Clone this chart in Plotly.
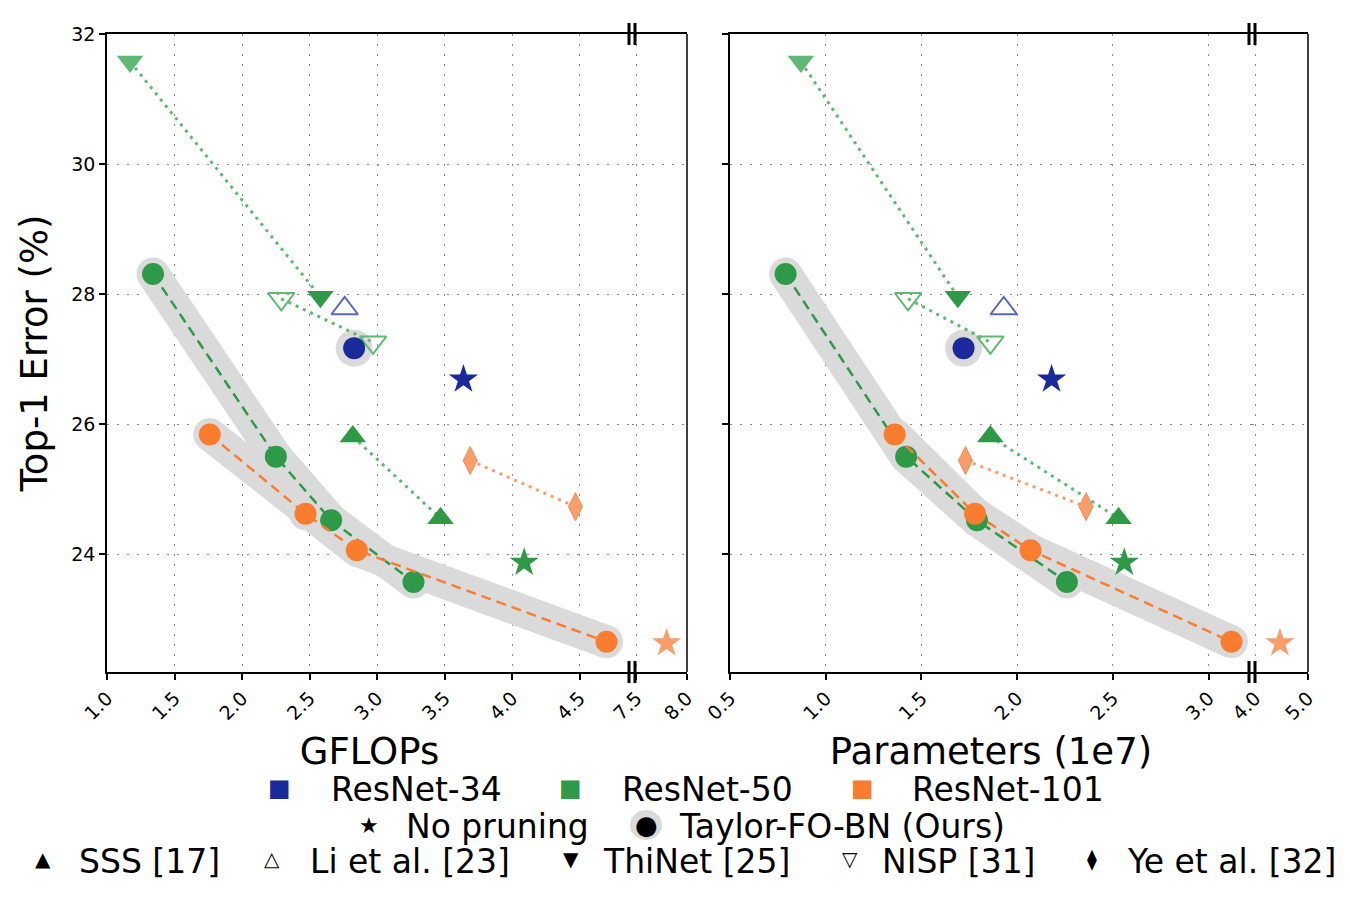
import plotly.graph_objects as go

# ---------------- data ----------------
# Left panel: GFLOPs vs top-1 error
r34_taylor_gflops = [2.83]
r34_taylor_err = [27.17]
r34_base_gflops = [3.64]
r34_base_err = [26.69]
li_gflops = [2.76]
li_err = [27.78]

r50_taylor_gflops = [1.34, 2.25, 2.66, 3.27]
r50_taylor_err = [28.31, 25.50, 24.52, 23.57]
r50_base_gflops = [4.09]
r50_base_err = [23.87]
sss_gflops = [2.82, 3.47]
sss_err = [25.81, 24.55]
thinet_gflops = [1.17, 2.58]
thinet_err = [31.58, 27.96]
nisp_gflops = [2.29, 2.97]
nisp_err = [27.93, 27.26]

r101_taylor_gflops = [1.76, 2.47, 2.85, 4.70]
r101_taylor_err = [25.84, 24.62, 24.06, 22.65]
ye_gflops = [3.69, 4.47]
ye_err = [25.44, 24.73]
r101_base_gflops = [7.80]
r101_base_err = [22.63]

# Right panel: parameters (1e7) vs top-1 error
r34_taylor_params = [1.72]
r34_base_params = [2.18]
li_params = [1.93]
r50_taylor_params = [0.79, 1.42, 1.79, 2.26]
r50_base_params = [2.56]
sss_params = [1.86, 2.53]
thinet_params = [0.87, 1.69]
nisp_params = [1.43, 1.86]
r101_taylor_params = [1.36, 1.78, 2.07, 3.12]
ye_params = [1.73, 2.36]
r101_base_params = [4.47]

y_ticks = [24, 26, 28, 30, 32]
gflops_ticks_a = [1.0, 1.5, 2.0, 2.5, 3.0, 3.5, 4.0, 4.5]
gflops_ticks_b = [7.5, 8.0]
params_ticks_a = [0.5, 1.0, 1.5, 2.0, 2.5, 3.0]
params_ticks_b = [4.0, 5.0]

x_titles = ["GFLOPs", "Parameters (1e7)"]
y_title = "Top-1 Error (%)"
model_labels = ["ResNet-34", "ResNet-50", "ResNet-101"]
kind_labels = ["No pruning", "Taylor-FO-BN (Ours)"]
method_labels = ["SSS [17]", "Li et al. [23]", "ThiNet [25]", "NISP [31]", "Ye et al. [32]"]

# ---------------- style / layout constants ----------------
W, H = 1350, 900
FONT = "DejaVu Sans"
BLUE = "#1b2a9b"
LIGHT_BLUE = "#5a66c4"
GREEN = "#2e9a47"
LIGHT_GREEN = "#5fb874"
ORANGE = "#fa7c2f"
LIGHT_ORANGE = "#f99e6a"
HALO = "#dadada"
GRID = "#8a8a8a"

L_X0, L_BRK, L_X1 = 107, 632, 687
R_X0, R_BRK, R_X1 = 730, 1252, 1308
Y_TOP, Y_BOT = 34, 672

def px(v):
    return v / W

def py(v):
    return 1 - v / H

fig = go.Figure()

def add_panel(xa, xb, ya, d):
    """xa: main segment axis, xb: broken right segment axis"""
    common = dict(hoverinfo="skip", showlegend=False, yaxis=ya)
    # gray halos behind Taylor-FO-BN
    for xs, ys in [(d["r50_t"], r50_taylor_err), (d["r101_t"], r101_taylor_err)]:
        fig.add_trace(go.Scatter(x=xs, y=ys, mode="lines+markers", xaxis=xa,
                                 line=dict(color=HALO, width=33),
                                 marker=dict(color=HALO, size=33, line=dict(width=0)), **common))
    fig.add_trace(go.Scatter(x=d["r34_t"], y=r34_taylor_err, mode="markers", xaxis=xa,
                             marker=dict(color=HALO, size=37, line=dict(width=0)), **common))
    # dotted connections of other methods
    for xs, ys, c in [(d["thinet"], thinet_err, LIGHT_GREEN), (d["nisp"], nisp_err, LIGHT_GREEN),
                      (d["sss"], sss_err, LIGHT_GREEN), (d["ye"], ye_err, LIGHT_ORANGE)]:
        fig.add_trace(go.Scatter(x=xs, y=ys, mode="lines", xaxis=xa,
                                 line=dict(color=c, width=3, dash="3px,5px"), **common))
    # markers of other methods
    fig.add_trace(go.Scatter(x=d["thinet"], y=thinet_err, mode="markers", xaxis=xa,
                             marker=dict(symbol="triangle-down", size=23, color=[LIGHT_GREEN, GREEN],
                                         line=dict(width=0)), **common))
    fig.add_trace(go.Scatter(x=d["nisp"], y=nisp_err, mode="markers", xaxis=xa,
                             marker=dict(symbol="triangle-down-open", size=23, color=LIGHT_GREEN,
                                         line=dict(width=2)), **common))
    fig.add_trace(go.Scatter(x=d["sss"], y=sss_err, mode="markers", xaxis=xa,
                             marker=dict(symbol="triangle-up", size=23, color=GREEN,
                                         line=dict(width=0)), **common))
    fig.add_trace(go.Scatter(x=d["li"], y=li_err, mode="markers", xaxis=xa,
                             marker=dict(symbol="triangle-up-open", size=23, color=LIGHT_BLUE,
                                         line=dict(width=2)), **common))
    fig.add_trace(go.Scatter(x=d["ye"], y=ye_err, mode="markers", xaxis=xa,
                             marker=dict(symbol="diamond-tall", size=20, color=LIGHT_ORANGE,
                                         line=dict(width=1, color="#f48a50")), **common))
    # unpruned models
    fig.add_trace(go.Scatter(x=d["r34_b"], y=r34_base_err, mode="markers", xaxis=xa,
                             marker=dict(symbol="star", size=22, color=BLUE, line=dict(width=0)), **common))
    fig.add_trace(go.Scatter(x=d["r50_b"], y=r50_base_err, mode="markers", xaxis=xa,
                             marker=dict(symbol="star", size=22, color=GREEN, line=dict(width=0)), **common))
    fig.add_trace(go.Scatter(x=d["r101_b"], y=r101_base_err, mode="markers", xaxis=xb,
                             marker=dict(symbol="star", size=22, color=LIGHT_ORANGE, line=dict(width=0)), **common))
    # Taylor-FO-BN (ours)
    fig.add_trace(go.Scatter(x=d["r50_t"], y=r50_taylor_err, mode="lines+markers", xaxis=xa,
                             line=dict(color=GREEN, width=2.5, dash="10px,6px"),
                             marker=dict(size=22, color=GREEN, line=dict(width=0)), **common))
    fig.add_trace(go.Scatter(x=d["r101_t"], y=r101_taylor_err, mode="lines+markers", xaxis=xa,
                             line=dict(color=ORANGE, width=2.5, dash="10px,6px"),
                             marker=dict(size=22, color=ORANGE, line=dict(width=0)), **common))
    fig.add_trace(go.Scatter(x=d["r34_t"], y=r34_taylor_err, mode="markers", xaxis=xa,
                             marker=dict(size=22, color=BLUE, line=dict(width=0)), **common))


add_panel("x", "x2", "y", dict(r34_t=r34_taylor_gflops, r34_b=r34_base_gflops, li=li_gflops,
                               r50_t=r50_taylor_gflops, r50_b=r50_base_gflops, sss=sss_gflops,
                               thinet=thinet_gflops, nisp=nisp_gflops, r101_t=r101_taylor_gflops,
                               ye=ye_gflops, r101_b=r101_base_gflops))
add_panel("x3", "x4", "y2", dict(r34_t=r34_taylor_params, r34_b=r34_base_params, li=li_params,
                                 r50_t=r50_taylor_params, r50_b=r50_base_params, sss=sss_params,
                                 thinet=thinet_params, nisp=nisp_params, r101_t=r101_taylor_params,
                                 ye=ye_params, r101_b=r101_base_params))

tickfont = dict(family=FONT, size=19, color="black")
grid = dict(showgrid=True, gridcolor=GRID, gridwidth=1, griddash="1.5px,8.5px")
axline = dict(showline=True, linecolor="black", linewidth=1.5, ticks="outside", ticklen=6,
              tickwidth=1.5, tickcolor="black", zeroline=False)

def xaxis(dom, rng, ticks, anchor, title=None):
    d = dict(domain=[px(dom[0]), px(dom[1])], range=rng, tickvals=ticks,
             ticktext=[f"{t:.1f}" for t in ticks], tickangle=-45, tickfont=tickfont,
             anchor=anchor, mirror=True, automargin=False, **grid, **axline)
    if title:
        d["title"] = dict(text=title, font=dict(family=FONT, size=37, color="black"), standoff=15)
    return d

y_rng = [22.185, 32.005]
fig.update_layout(
    width=W, height=H,
    margin=dict(l=0, r=0, t=0, b=0),
    paper_bgcolor="white", plot_bgcolor="white",
    showlegend=False,
    xaxis=xaxis((L_X0, L_BRK), [0.999, 1.0 + (L_BRK - L_X0) / 135], gflops_ticks_a, "y", x_titles[0]),
    xaxis2=xaxis((L_BRK, L_X1), [7.458, 8.002], gflops_ticks_b, "y"),
    xaxis3=xaxis((R_X0, R_BRK), [0.4995, 0.5 + (R_BRK - R_X0) / 191.4], params_ticks_a, "y2", x_titles[1]),
    xaxis4=xaxis((R_BRK, R_X1), [3.94, 5.002], params_ticks_b, "y2"),
    yaxis=dict(domain=[py(Y_BOT), py(Y_TOP)], range=y_rng, tickvals=y_ticks, tickfont=tickfont,
               anchor="x", automargin=False,
               title=dict(text=y_title, font=dict(family=FONT, size=37, color="black"), standoff=12),
               **grid, **axline),
    yaxis2=dict(domain=[py(Y_BOT), py(Y_TOP)], range=y_rng, tickvals=y_ticks, showticklabels=False,
                anchor="x3", automargin=False, **grid, **axline),
)

shapes = []
# right spines of the broken segments
for xr, yr in [("x2 domain", "y domain"), ("x4 domain", "y2 domain")]:
    shapes.append(dict(type="line", xref=xr, yref=yr, x0=1, x1=1, y0=0, y1=1,
                       line=dict(color="black", width=1.5)))
# break marks "||" on top and bottom spines
for xr, yr in [("x domain", "y domain"), ("x3 domain", "y2 domain")]:
    for yy in (0, 1):
        for off in (-3, 3):
            shapes.append(dict(type="line", xref=xr, yref=yr, xsizemode="pixel", xanchor=1,
                               x0=off, x1=off, ysizemode="pixel", yanchor=yy, y0=-11, y1=11,
                               line=dict(color="black", width=3)))

# custom legend (three centered rows)
ann = []
LEG_FONT = dict(family=FONT, size=33, color="black")
row1 = [(BLUE, 279, 329), (GREEN, 570, 620), (ORANGE, 862, 910)]
for (c, gx, tx), lab in zip(row1, model_labels):
    ann.append(dict(text="■", x=px(gx), y=py(788), xref="paper", yref="paper", showarrow=False,
                    xanchor="center", yanchor="middle", font=dict(family=FONT, size=24, color=c)))
    ann.append(dict(text=lab, x=px(tx), y=py(789), xref="paper", yref="paper", showarrow=False,
                    xanchor="left", yanchor="middle", font=LEG_FONT))
row2 = [("★", 369, 404, 22), ("●", 646, 677, 26)]
shapes.append(dict(type="circle", xref="paper", yref="paper", xsizemode="pixel", ysizemode="pixel",
                   xanchor=px(646), yanchor=py(825), x0=-16, x1=16, y0=-15, y1=15,
                   fillcolor=HALO, line=dict(width=0), layer="below"))
for (g, gx, tx, fs), lab in zip(row2, kind_labels):
    ann.append(dict(text=g, x=px(gx), y=py(825), xref="paper", yref="paper", showarrow=False,
                    xanchor="center", yanchor="middle", font=dict(family=FONT, size=fs, color="black")))
    ann.append(dict(text=lab, x=px(tx), y=py(826), xref="paper", yref="paper", showarrow=False,
                    xanchor="left", yanchor="middle", font=LEG_FONT))
row3 = [("▲", 43, 77), ("△", 272, 308), ("▼", 571, 601), ("▽", 850, 880), ("⧫", 1092, 1125)]
for (g, gx, tx), lab in zip(row3, method_labels):
    ann.append(dict(text=g, x=px(gx), y=py(859), xref="paper", yref="paper", showarrow=False,
                    xanchor="center", yanchor="middle", font=dict(family=FONT, size=20, color="black")))
    ann.append(dict(text=lab, x=px(tx), y=py(861), xref="paper", yref="paper", showarrow=False,
                    xanchor="left", yanchor="middle", font=LEG_FONT))

fig.update_layout(shapes=shapes, annotations=ann)
fig.write_html("out.html")
